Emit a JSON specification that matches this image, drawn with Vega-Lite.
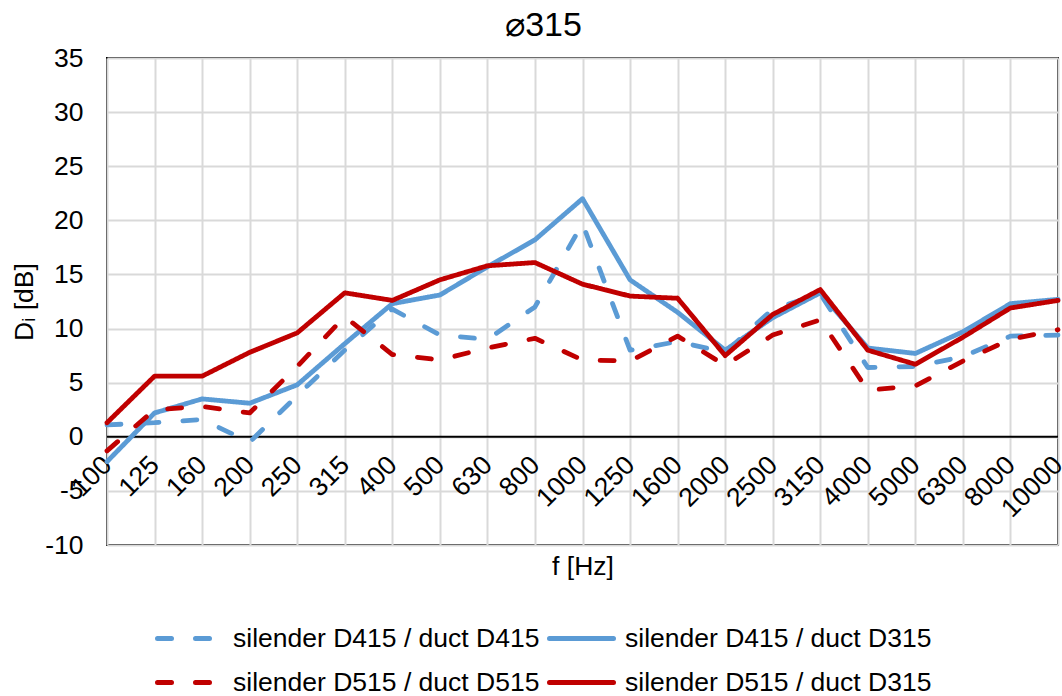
{
  "$schema": "https://vega.github.io/schema/vega-lite/v6.json",
  "width": 951,
  "height": 487,
  "autosize": {"type": "none"},
  "padding": {"left": 107, "top": 58, "right": 4, "bottom": 151},
  "background": "white",
  "config": {
    "font": "Liberation Sans",
    "view": {"stroke": "black", "strokeWidth": 2},
    "axis": {
      "labelFont": "Liberation Sans",
      "labelFontSize": 26.5,
      "labelColor": "black",
      "titleFont": "Liberation Sans",
      "titleFontSize": 26.5,
      "titleFontWeight": "normal",
      "titleColor": "black",
      "gridColor": "#d9d9d9",
      "gridWidth": 2,
      "domain": false,
      "ticks": false
    },
    "legend": {
      "title": null,
      "orient": "none",
      "direction": "horizontal",
      "legendX": 64,
      "legendY": 562,
      "columns": 2,
      "symbolType": "M-2,0H2",
      "symbolSize": 1024,
      "symbolStrokeWidth": 5,
      "labelFont": "Liberation Sans",
      "labelFontSize": 26.5,
      "labelColor": "black",
      "labelOffset": 25,
      "labelLimit": 0,
      "columnPadding": -1,
      "rowPadding": 12,
      "padding": 0
    }
  },
  "title": {"text": "⌀315", "fontSize": 34, "fontWeight": "normal", "font": "Liberation Sans", "color": "black", "anchor": "middle", "offset": 2, "dx": -39},
  "layer": [
    {
      "data": {"values": [{"zero": 0}]},
      "mark": {"type": "rule", "color": "black", "strokeWidth": 2},
      "encoding": {"y": {"field": "zero", "type": "quantitative"}}
    },
    {
      "data": {"values": [
        {"f": "100", "s": "silender D415 / duct D415", "v": 1.1},
        {"f": "125", "s": "silender D415 / duct D415", "v": 1.3},
        {"f": "160", "s": "silender D415 / duct D415", "v": 1.6},
        {"f": "200", "s": "silender D415 / duct D415", "v": -0.5},
        {"f": "250", "s": "silender D415 / duct D415", "v": 3.8},
        {"f": "315", "s": "silender D415 / duct D415", "v": 8.0},
        {"f": "400", "s": "silender D415 / duct D415", "v": 11.8},
        {"f": "500", "s": "silender D415 / duct D415", "v": 9.4},
        {"f": "630", "s": "silender D415 / duct D415", "v": 9.0},
        {"f": "800", "s": "silender D415 / duct D415", "v": 12.0},
        {"f": "1000", "s": "silender D415 / duct D415", "v": 19.7},
        {"f": "1250", "s": "silender D415 / duct D415", "v": 8.0},
        {"f": "1600", "s": "silender D415 / duct D415", "v": 8.8},
        {"f": "2000", "s": "silender D415 / duct D415", "v": 7.8},
        {"f": "2500", "s": "silender D415 / duct D415", "v": 11.8},
        {"f": "3150", "s": "silender D415 / duct D415", "v": 13.2},
        {"f": "4000", "s": "silender D415 / duct D415", "v": 6.4},
        {"f": "5000", "s": "silender D415 / duct D415", "v": 6.5},
        {"f": "6300", "s": "silender D415 / duct D415", "v": 7.4},
        {"f": "8000", "s": "silender D415 / duct D415", "v": 9.3},
        {"f": "10000", "s": "silender D415 / duct D415", "v": 9.4},
        {"f": "100", "s": "silender D415 / duct D315", "v": -2.3},
        {"f": "125", "s": "silender D415 / duct D315", "v": 2.2},
        {"f": "160", "s": "silender D415 / duct D315", "v": 3.5},
        {"f": "200", "s": "silender D415 / duct D315", "v": 3.1},
        {"f": "250", "s": "silender D415 / duct D315", "v": 4.8},
        {"f": "315", "s": "silender D415 / duct D315", "v": 8.6},
        {"f": "400", "s": "silender D415 / duct D315", "v": 12.3},
        {"f": "500", "s": "silender D415 / duct D315", "v": 13.1},
        {"f": "630", "s": "silender D415 / duct D315", "v": 15.7},
        {"f": "800", "s": "silender D415 / duct D315", "v": 18.2},
        {"f": "1000", "s": "silender D415 / duct D315", "v": 22.0},
        {"f": "1250", "s": "silender D415 / duct D315", "v": 14.5},
        {"f": "1600", "s": "silender D415 / duct D315", "v": 11.5},
        {"f": "2000", "s": "silender D415 / duct D315", "v": 8.0},
        {"f": "2500", "s": "silender D415 / duct D315", "v": 11.0},
        {"f": "3150", "s": "silender D415 / duct D315", "v": 13.3},
        {"f": "4000", "s": "silender D415 / duct D315", "v": 8.2},
        {"f": "5000", "s": "silender D415 / duct D315", "v": 7.7},
        {"f": "6300", "s": "silender D415 / duct D315", "v": 9.7},
        {"f": "8000", "s": "silender D415 / duct D315", "v": 12.3},
        {"f": "10000", "s": "silender D415 / duct D315", "v": 12.7},
        {"f": "100", "s": "silender D515 / duct D515", "v": -1.3},
        {"f": "125", "s": "silender D515 / duct D515", "v": 2.5},
        {"f": "160", "s": "silender D515 / duct D515", "v": 2.8},
        {"f": "200", "s": "silender D515 / duct D515", "v": 2.2},
        {"f": "250", "s": "silender D515 / duct D515", "v": 6.5},
        {"f": "315", "s": "silender D515 / duct D515", "v": 11.1},
        {"f": "400", "s": "silender D515 / duct D515", "v": 7.6},
        {"f": "500", "s": "silender D515 / duct D515", "v": 7.1},
        {"f": "630", "s": "silender D515 / duct D515", "v": 8.2},
        {"f": "800", "s": "silender D515 / duct D515", "v": 9.1},
        {"f": "1000", "s": "silender D515 / duct D515", "v": 7.1},
        {"f": "1250", "s": "silender D515 / duct D515", "v": 7.0},
        {"f": "1600", "s": "silender D515 / duct D515", "v": 9.3},
        {"f": "2000", "s": "silender D515 / duct D515", "v": 6.6},
        {"f": "2500", "s": "silender D515 / duct D515", "v": 9.4},
        {"f": "3150", "s": "silender D515 / duct D515", "v": 10.8},
        {"f": "4000", "s": "silender D515 / duct D515", "v": 4.3},
        {"f": "5000", "s": "silender D515 / duct D515", "v": 4.7},
        {"f": "6300", "s": "silender D515 / duct D515", "v": 7.0},
        {"f": "8000", "s": "silender D515 / duct D515", "v": 9.0},
        {"f": "10000", "s": "silender D515 / duct D515", "v": 9.9},
        {"f": "100", "s": "silender D515 / duct D315", "v": 1.3},
        {"f": "125", "s": "silender D515 / duct D315", "v": 5.6},
        {"f": "160", "s": "silender D515 / duct D315", "v": 5.6},
        {"f": "200", "s": "silender D515 / duct D315", "v": 7.8},
        {"f": "250", "s": "silender D515 / duct D315", "v": 9.6},
        {"f": "315", "s": "silender D515 / duct D315", "v": 13.3},
        {"f": "400", "s": "silender D515 / duct D315", "v": 12.6},
        {"f": "500", "s": "silender D515 / duct D315", "v": 14.5},
        {"f": "630", "s": "silender D515 / duct D315", "v": 15.8},
        {"f": "800", "s": "silender D515 / duct D315", "v": 16.1},
        {"f": "1000", "s": "silender D515 / duct D315", "v": 14.1},
        {"f": "1250", "s": "silender D515 / duct D315", "v": 13.0},
        {"f": "1600", "s": "silender D515 / duct D315", "v": 12.8},
        {"f": "2000", "s": "silender D515 / duct D315", "v": 7.5},
        {"f": "2500", "s": "silender D515 / duct D315", "v": 11.3},
        {"f": "3150", "s": "silender D515 / duct D315", "v": 13.6},
        {"f": "4000", "s": "silender D515 / duct D315", "v": 8.0},
        {"f": "5000", "s": "silender D515 / duct D315", "v": 6.7},
        {"f": "6300", "s": "silender D515 / duct D315", "v": 9.2},
        {"f": "8000", "s": "silender D515 / duct D315", "v": 11.9},
        {"f": "10000", "s": "silender D515 / duct D315", "v": 12.6}
      ]},
      "mark": {"type": "line", "strokeWidth": 4.8, "strokeCap": "round", "strokeJoin": "round"},
      "encoding": {
        "x": {
          "field": "f",
          "type": "ordinal",
          "scale": {"type": "point", "padding": 0, "domain": ["100", "125", "160", "200", "250", "315", "400", "500", "630", "800", "1000", "1250", "1600", "2000", "2500", "3150", "4000", "5000", "6300", "8000", "10000"]},
          "axis": {"title": "f [Hz]", "labelAngle": -45, "labelAlign": "right", "labelBaseline": "middle", "offset": -108.5, "labelPadding": 24, "titleY": 117, "grid": true}
        },
        "y": {
          "field": "v",
          "type": "quantitative",
          "scale": {"domain": [-10, 35], "nice": false, "zero": false},
          "axis": {"title": "Dᵢ [dB]", "values": [-10, -5, 0, 5, 10, 15, 20, 25, 30, 35], "labelExpr": "toString(datum.value)", "labelPadding": 24, "titlePadding": 6, "grid": true}
        },
        "color": {
          "field": "s",
          "type": "nominal",
          "scale": {
            "domain": ["silender D415 / duct D415", "silender D415 / duct D315", "silender D515 / duct D515", "silender D515 / duct D315"],
            "range": ["#5B9BD5", "#5B9BD5", "#C00000", "#C00000"]
          },
          "legend": {"encode": {"symbols": {"update": {"strokeCap": {"value": "round"}}}}}
        },
        "strokeDash": {
          "field": "s",
          "type": "nominal",
          "scale": {
            "domain": ["silender D415 / duct D415", "silender D415 / duct D315", "silender D515 / duct D515", "silender D515 / duct D315"],
            "range": [[14, 24], [1, 0], [14, 24], [1, 0]]
          },
          "legend": {"encode": {"symbols": {"update": {"strokeCap": {"value": "round"}}}}}
        }
      }
    }
  ]
}
